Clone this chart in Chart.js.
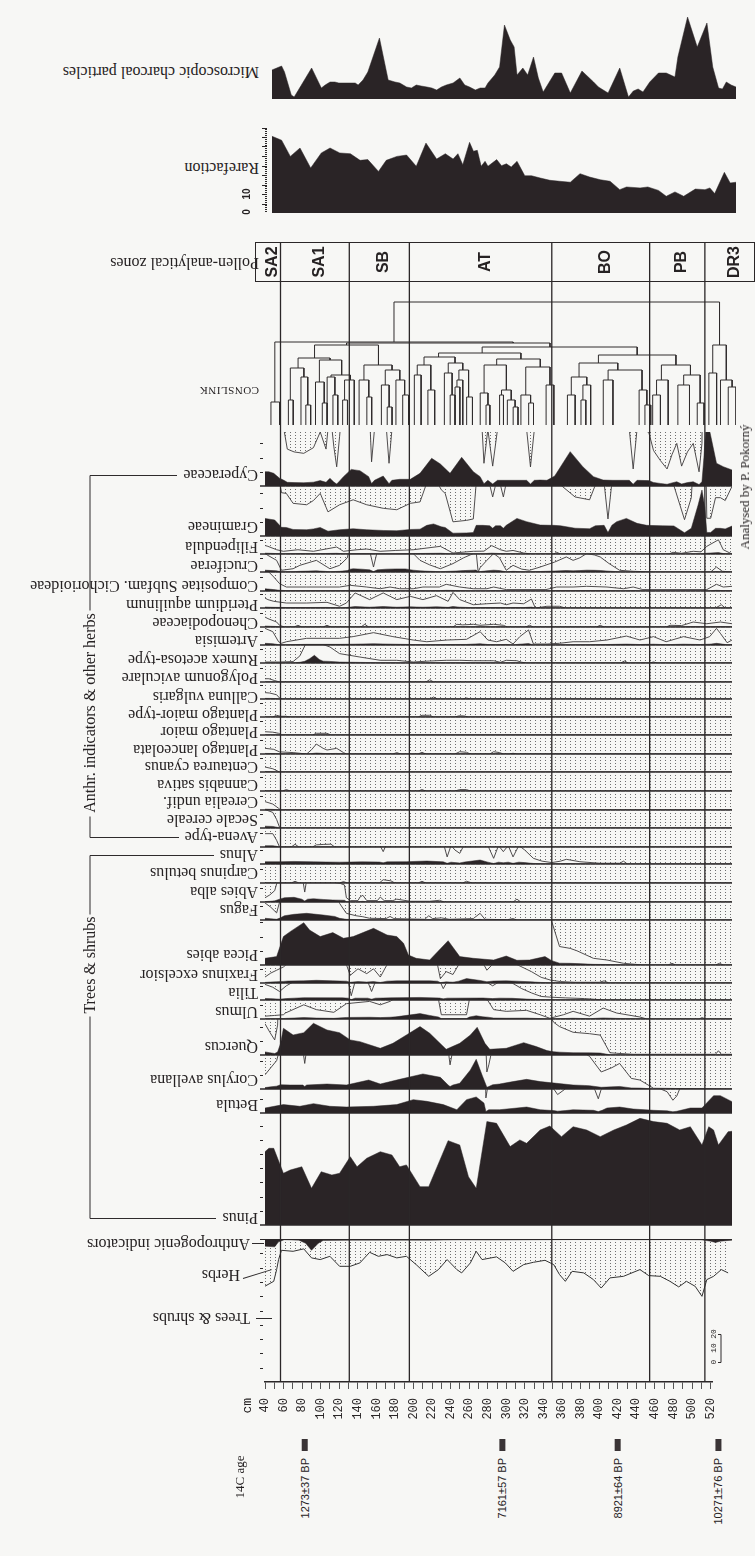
<!DOCTYPE html>
<html>
<head>
<meta charset="utf-8">
<title>Pollen diagram</title>
<script src="https://cdn.jsdelivr.net/npm/chart.js@4.4.1/dist/chart.umd.min.js"></script>
<style>
  html, body { margin: 0; padding: 0; background: #f7f7f5; }
  #page { position: relative; width: 755px; height: 1556px; overflow: hidden; background: #f7f7f5; }
  #page canvas { position: absolute; }
  .t { position: absolute; white-space: nowrap; color: #262223; transform-origin: 0 0; line-height: 1; }
  .ln { position: absolute; background: #2f2b2c; transform-origin: 0 50%; }
</style>
</head>
<body>
<div id="page"></div>
<script>
// depth axis shared by every panel
const DEPTH_MIN = 40;
const DEPTH_MAX = 522;
const X0 = 265;       // px of DEPTH_MIN
const PLOT_W = 467;   // px from DEPTH_MIN to DEPTH_MAX
const PAD_L = 10, PAD_R = 2;
const PX_PER_PCT = 1.42;
const INK = '#2a2426';
const SERIF = '"Liberation Serif", "Times New Roman", serif';

// ---------------- data ----------------
const zoneNames = ['SA2', 'SA1', 'SB', 'AT', 'BO', 'PB', 'DR3'];
const zoneBounds = [56, 127, 189, 336, 437, 494];
const ageDepths = [81, 285, 404, 508];
const ageLabels = ['1273±37 BP', '7161±57 BP', '8921±64 BP', '10271±76 BP'];

const charcoal = [[43,29],[48,31],[53,33],[56,27],[63,4],[66,2],[84,31],[94,11],[98,14],[103,17],[108,17],[112,16],[129,16],[132,14],[137,19],[142,27],[154,61],[163,19],[170,17],[175,16],[182,12],[187,11],[192,14],[197,13],[203,12],[208,11],[213,9],[218,12],[223,14],[230,16],[237,21],[242,14],[247,12],[253,9],[258,11],[263,11],[266,16],[273,24],[278,32],[283,74],[289,59],[293,52],[296,24],[302,31],[307,24],[313,42],[318,21],[323,7],[335,26],[342,26],[351,6],[363,28],[375,17],[380,12],[390,6],[402,31],[411,2],[416,8],[421,10],[426,7],[433,17],[442,26],[450,26],[459,22],[462,42],[472,82],[482,52],[492,76],[498,32],[504,11],[508,10],[512,17],[517,14],[522,12]];

const rarefaction = [[43,40.4],[53,38.3],[62,29.8],[72,34.2],[83,23.7],[94,31.6],[103,34.2],[113,31.6],[124,31.2],[134,27.7],[142,28.1],[153,21.9],[161,27.7],[172,29.8],[182,30.5],[192,24.6],[202,36.8],[213,28.4],[222,31.2],[230,28.4],[235,31.2],[240,25.4],[247,37.2],[251,32.5],[255,33],[259,24.6],[263,27.2],[266,24.6],[275,28.1],[280,24.9],[285,25.9],[290,24.2],[296,27.2],[304,19.6],[311,19.6],[320,18.4],[330,17.2],[340,16.7],[351,16.2],[361,20.7],[371,18.9],[382,17.5],[392,16.7],[402,12.3],[409,13.7],[423,13.2],[431,13.7],[442,11.9],[450,8.8],[459,11.1],[468,8.8],[480,12.6],[490,12.3],[495,13.2],[500,10.2],[510,21.4],[516,15.8],[522,16.2]];

// dendrogram links: [left depth, right depth, height, left child height, right child height]
const dendroLinks = [
  [42,51,23,0,0],[46,292,83,23,82],[169,505,123,83,80],[120,330,82,80,78],
  [87,153,80,67,60],
  [70,103,67,57,65],[62,76,57,25,48],[60,65,25,0,0],[73,80,48,0,20],[78,83,20,0,0],
  [92,115,65,43,50],[88,97,43,0,22],[95,100,22,0,0],[104,124,50,48,45],[100,108,48,0,30],
  [106,111,30,0,0],[118,128,45,25,0],[116,121,25,0,0],
  [138,167,60,45,55],[133,143,45,0,28],[141,146,28,0,0],[160,175,55,40,45],[156,164,40,0,18],
  [162,167,18,0,0],[171,180,45,0,30],[178,184,30,0,0],
  [260,420,78,72,70],[215,300,72,68,66],[200,232,68,60,62],[193,207,60,50,35],[190,197,50,0,0],
  [204,211,35,0,0],[225,240,62,52,55],[221,229,52,0,30],[227,232,30,0,0],[236,246,55,45,28],
  [234,240,45,38,0],[232,237,38,0,0],[244,250,28,0,0],
  [275,320,66,60,58],[262,285,60,32,35],[258,266,32,0,20],[264,268,20,0,0],[280,290,35,30,25],
  [278,282,30,0,0],[286,294,25,0,18],[292,297,18,0,0],[305,330,58,30,40],[300,310,30,0,22],
  [308,313,22,0,0],[326,334,40,0,0],
  [380,460,70,62,60],[360,400,62,48,55],[352,368,48,30,40],[348,356,30,0,0],[364,372,40,25,0],
  [362,367,25,0,0],[390,425,55,45,35],[385,395,45,0,0],[422,430,35,0,20],[428,434,20,0,0],
  [445,475,60,45,50],[440,452,45,30,0],[436,444,30,0,0],[468,485,50,40,22],[462,474,40,0,0],
  [482,489,22,0,0],
  [498,512,80,52,45],[494,502,52,0,0],[506,518,45,0,38],[514,522,38,0,0]
];

// pollen percentages [depth cm, %]
const cyperaceae = [[40,10.1],[44,10],[49,8.9],[55,5.5],[59,4.2],[63,2.6],[70,2.4],[80,2.3],[90,2.7],[97,3.8],[103,2.6],[107,5.4],[111,2.8],[114,1.35],[117,3.5],[121,6.6],[129,11.7],[138,10.8],[147,6.6],[150,1.7],[153,4],[162,7],[168,1.6],[171,4],[179,4.7],[190,4.7],[200,8.9],[212,19.5],[221,15.5],[231,8.9],[243,20.2],[255,10.1],[262,6.6],[266,1.6],[270,4],[275,1.4],[280,4],[300,4],[310,4],[314,1.34],[318,4],[324,4.2],[331,4],[339,7],[355,24.2],[368,13.6],[379,6.6],[389,4.2],[399,4],[410,4],[416,4],[420,1.2],[424,4],[436,3.8],[441,2.5],[448,1.8],[455,1.2],[460,2.2],[465,3],[470,1.4],[476,2.4],[482,3],[488,1.0],[491,3],[493,20],[495,41],[499,38.7],[506,16],[513,13.6],[522,11.3]];
const gramineae = [[40,12.4],[45,11.8],[50,11.3],[57,6.1],[62,6.0],[69,4.6],[83,4.4],[90,5.0],[97,6.0],[105,3.4],[117,4.4],[131,5.1],[145,4.4],[162,3.9],[176,3.7],[190,4.6],[200,4.8],[207,7.5],[214,8.5],[222,6.5],[226,6.0],[234,2.0],[248,2.2],[255,2.4],[258,7.5],[265,7.5],[272,7.2],[275,5.5],[278,7.2],[283,7.2],[286,5.5],[289,7.5],[300,12.4],[310,10.1],[324,7.7],[338,7.5],[345,7.2],[360,5.5],[375,5.1],[381,7.2],[390,7.5],[394,2.4],[398,7.5],[403,10.1],[413,12.4],[424,8.9],[434,7.5],[450,7.2],[462,7.1],[473,2.3],[480,5.4],[487,21.8],[491,32.4],[494,20],[496,2.5],[500,2.5],[505,5.4],[510,5.4],[515,5.0],[522,7]];
const filipendula = [[40,0.6],[43,0.54],[52,0.3],[59,0.19],[74,0.3],[90,0.19],[114,0.49],[121,0.19],[135,0.3],[145,0.35],[159,0.19],[175,0.25],[193,0.3],[221,0.54],[234,0.07],[255,0.19],[266,0.2],[274,0.59],[283,0.3],[289,0.19],[296,0.25],[307,0.07],[315,0],[338,0],[341,0.12],[345,0],[457,0],[461,0.12],[470,0.05],[482,0.19],[490,0.15],[496,0.54],[508,1.0],[513,0.3],[522,0]];
const cruciferae = [[40,1.3],[43,1.17],[52,0.82],[57,0.12],[69,0.23],[76,0.47],[93,0.82],[107,0.23],[117,0.47],[125,1.0],[128,2.0],[131,2.3],[140,2.0],[148,1.5],[152,0.35],[156,1.5],[165,2.0],[175,2.2],[185,2.2],[190,1.6],[193,1.3],[200,0.82],[210,0.5],[221,0.23],[234,0.59],[245,1.0],[255,1.3],[258,1.4],[260,0],[262,0.3],[269,0.82],[276,1.3],[282,1.0],[289,0.12],[296,0.47],[305,0.2],[313,0.12],[324,0.35],[339,0.7],[351,1.06],[358,0.82],[365,1.0],[372,1.3],[380,1.2],[386,1.06],[395,0.6],[406,0.12],[420,0.05],[441,0],[500,0],[506,0.35],[512,0.05],[522,0]];
const compositae = [[40,1.6],[43,1.4],[49,0.99],[55,0.52],[62,0.28],[83,0.28],[117,0.28],[128,0.4],[145,0.28],[159,0.16],[169,0.28],[179,0.16],[193,0.16],[203,0.28],[220,0.28],[227,0.47],[241,0.28],[255,0.16],[269,0.16],[276,0.28],[289,0.1],[330,0.1],[341,0.28],[358,0.28],[372,0.33],[393,0.28],[410,0.16],[420,0.28],[430,0.1],[496,0.1],[506,0.47],[513,0.28],[522,0.33]];
const pteridium = [[40,0.7],[43,0.59],[49,0.47],[62,0.35],[83,0.35],[104,0.4],[117,0.12],[124,0.35],[133,1.06],[148,0.59],[162,1.06],[176,0.59],[190,0.82],[203,0.59],[217,0.87],[229,0.47],[234,1.1],[241,0.59],[255,0.23],[269,0.3],[283,0.35],[289,0.23],[296,0.35],[307,0.3],[315,0.63],[319,0],[331,0.12],[344,0.12],[350,0],[505,0],[511,0.23],[515,0],[522,0]];
const chenopodiaceae = [[40,0.7],[43,0.59],[52,0.35],[55,0.12],[60,0],[70,0],[74,0.12],[78,0],[100,0],[104,0.12],[108,0],[139,0],[143,0.19],[147,0],[234,0],[238,0.19],[244,0.15],[255,0.19],[262,0.12],[276,0.19],[286,0.12],[290,0],[309,0],[313,0.12],[317,0],[382,0],[386,0.12],[390,0],[454,0],[458,0.12],[470,0.1],[482,0.35],[496,0.23],[510,0.35],[522,0.23]];
const artemisia = [[40,1.17],[48,0.94],[54,0.23],[57,0.12],[62,0.23],[83,0.47],[117,0.47],[131,0.59],[152,0.87],[172,0.59],[193,0.35],[207,0.23],[228,0.35],[248,0.4],[262,0.94],[270,0.35],[279,0.23],[289,0.4],[296,0.07],[303,0.59],[312,1.06],[317,0.07],[331,0.07],[344,0.12],[358,0.23],[375,0.23],[393,0.35],[413,0.63],[427,0.35],[441,0.59],[454,0.23],[472,0.59],[489,0.35],[499,0.59],[506,1.17],[510,0.82],[517,0.16],[522,0.35]];
const rumex = [[40,0.07],[55,0.07],[69,0.1],[76,0.5],[81,1.2],[86,3],[91,5.4],[96,2.5],[100,1.3],[107,1.13],[117,0.66],[138,0.42],[159,0.19],[176,0.19],[193,0.07],[210,0.14],[227,0.19],[241,0.19],[255,0.16],[276,0.16],[283,0.05],[289,0.19],[300,0.16],[305,0.05],[310,0],[407,0],[411,0.14],[415,0],[437,0],[441,0.07],[445,0],[522,0]];
const polygonum = [[40,0.23],[44,0.23],[50,0.1],[55,0],[206,0],[210,0.16],[214,0],[522,0]];
const calluna = [[40,0.45],[45,0.42],[52,0.3],[55,0.07],[58,0],[210,0],[214,0.14],[218,0],[244,0],[248,0.07],[252,0],[522,0]];
const plantagoMaiorType = [[40,0],[48,0],[52,0.12],[56,0.05],[62,0.05],[66,0],[198,0],[202,0.12],[210,0.12],[214,0],[236,0],[240,0.08],[245,0.08],[250,0],[522,0]];
const plantagoMaior = [[40,0.23],[48,0.2],[54,0.12],[57,0],[89,0],[93,0.12],[104,0.12],[108,0],[522,0]];
const plantagoLanceolata = [[40,0.4],[49,0.33],[55,0.15],[69,0.1],[83,0],[88,0.3],[93,0.7],[100,0.4],[104,0.28],[114,0.4],[121,0.1],[124,0],[172,0],[176,0.1],[180,0],[198,0],[202,0.12],[206,0],[236,0],[241,0.16],[248,0.12],[252,0],[272,0],[276,0.16],[282,0.1],[286,0],[292,0],[296,0.05],[300,0],[522,0]];
const centaurea = [[40,0.35],[48,0.23],[55,0],[522,0]];
const cannabis = [[40,0],[58,0],[62,0.1],[66,0],[198,0],[202,0.1],[206,0],[236,0],[241,0.1],[248,0.1],[252,0],[522,0]];
const cerealia = [[40,0.59],[48,0.42],[54,0.12],[56,0],[522,0]];
const secale = [[40,1.3],[48,1.1],[52,0.6],[55,0.05],[57,0],[522,0]];
const avena = [[40,0.94],[48,0.94],[52,0.47],[55,0],[67,0],[71,0.19],[75,0],[89,0],[93,0.15],[100,0.18],[108,0.2],[112,0],[522,0]];
const alnus = [[40,1.6],[56,1.6],[70,1.8],[90,1.5],[117,1.3],[140,1.5],[158,1.4],[162,0.87],[166,1.5],[186,1.6],[207,2.1],[224,1.5],[228,0.5],[232,1.3],[236,0.99],[241,0.75],[246,1.4],[262,2.8],[270,1.3],[276,0.4],[281,1.3],[286,0.87],[291,1.3],[296,0.5],[302,1.3],[308,0.99],[317,0.4],[326,0.2],[336,0.1],[345,0.2],[351,0.33],[365,0.16],[386,0.05],[406,0.05],[410,0.2],[414,0],[522,0]];
const carpinus = [[40,0],[67,0],[71,0.12],[75,0],[117,0],[121,0.1],[125,0],[158,0],[162,0.23],[170,0.15],[174,0],[198,0],[202,0.12],[206,0],[244,0],[248,0.12],[254,0],[522,0]];
const abies = [[40,0.3],[45,0.5],[50,0.8],[55,2.0],[60,3.0],[70,3.3],[78,2.0],[81,0.7],[84,2.0],[90,2.3],[100,1.8],[110,1.4],[118,1.3],[122,1.2],[124,0.3],[128,0.1],[136,0.1],[138,0.35],[141,0.47],[145,0.1],[156,0.1],[159,0.35],[163,0.1],[172,0.1],[176,0.2],[190,0.05],[210,0.05],[220,0.12],[225,0],[296,0],[300,0.2],[304,0],[522,0]];
const fagus = [[40,1.2],[46,0.9],[52,0.5],[56,1.5],[60,3.0],[70,4.0],[83,4.7],[100,3.5],[112,2.5],[117,1.17],[124,0.47],[134,0.3],[141,0.23],[148,0.12],[165,0.1],[169,0.25],[173,0.1],[205,0.05],[209,0.3],[213,0.1],[222,0.15],[230,0.05],[255,0.1],[262,0.47],[267,0.05],[290,0.02],[296,0.1],[300,0],[522,0]];
const picea = [[40,4.7],[52,5.9],[59,20],[66,23.5],[80,29.8],[86,24.6],[97,20],[110,22.8],[121,18.8],[131,20],[152,25.8],[166,21.1],[176,20],[183,15.3],[188,7],[196,4.7],[210,3.5],[229,17.1],[241,5.9],[255,4.7],[276,3.5],[289,6.3],[300,3.3],[313,3.5],[329,5.9],[336,3.05],[344,1.3],[355,1.17],[362,1.0],[379,0.47],[393,0.35],[410,0.12],[430,0],[456,0],[460,0.12],[464,0],[505,0],[509,0.12],[513,0],[522,0]];
const fraxinus = [[40,0.42],[46,0.7],[52,0.9],[59,1.13],[64,1.4],[80,1.5],[93,1.9],[110,1.5],[124,1.3],[128,0.54],[136,1.0],[145,0.66],[152,1.0],[159,0.42],[166,1.3],[176,1.5],[210,1.5],[218,1.3],[221,0.3],[227,0.8],[234,0.6],[240,1.3],[248,3.1],[262,1.8],[269,0.9],[276,1.4],[289,1.5],[300,1.3],[315,0.8],[325,0.4],[335,0.2],[345,0.1],[360,0.05],[385,0.05],[390,0.15],[395,0],[522,0]];
const tilia = [[40,1.1],[48,0.9],[55,0.6],[62,1.0],[70,1.3],[80,1.6],[120,1.5],[126,1.3],[129,0.3],[133,1.3],[146,1.3],[150,0.6],[154,1.3],[170,1.5],[200,1.8],[220,1.4],[224,0.8],[228,1.3],[265,1.4],[275,1.0],[282,1.3],[295,1.2],[305,0.8],[315,0.5],[325,0.25],[335,0.2],[350,0.15],[370,0.1],[380,0.05],[390,0],[522,0]];
const ulmus = [[40,0.2],[50,0.25],[59,0.3],[61,0.42],[80,1.0],[93,0.66],[111,0.47],[124,1.08],[148,1.24],[159,1.0],[169,1.24],[175,1.5],[200,3.8],[210,2.5],[219,1.4],[222,0.3],[248,0.3],[251,1.4],[258,2.3],[265,1.5],[270,1.3],[276,0.66],[289,0.54],[310,0.61],[324,0.3],[334,0.05],[348,0.3],[358,0.54],[375,0.2],[389,0.77],[403,0.42],[427,0.14],[434,0],[488,0],[491,0.1],[495,0],[522,0]];
const quercus = [[40,2.2],[45,1.6],[50,1.06],[53,2.1],[56,8],[59,18.8],[69,14.1],[80,15.7],[90,22.3],[104,17.6],[117,15.7],[128,10.6],[138,9.4],[159,4.7],[172,8.2],[186,14.1],[200,20],[210,15.3],[227,4],[241,8.2],[252,14.1],[259,19.5],[267,8.2],[272,4],[289,4.7],[307,8.7],[320,5.9],[331,3.1],[338,2.3],[344,2.0],[358,1.6],[375,1.5],[386,1.4],[396,0.16],[403,0.12],[420,0.05],[505,0.05],[508,0.3],[511,0.05],[522,0.05]];
const corylus = [[40,1.0],[46,1.5],[52,2.0],[56,3],[66,2.8],[79,2.8],[81,1.8],[83,2.8],[104,3.5],[124,2.8],[147,6.3],[159,3.5],[179,6.8],[203,10.6],[221,8.2],[229,2.8],[231,1.7],[234,2.8],[241,4],[252,13.4],[258,20.9],[264,9.9],[269,1.2],[271,1.7],[275,3.0],[282,3.5],[296,5.2],[310,6.8],[324,5.2],[341,4],[358,2.8],[370,2.5],[375,2.3],[387,1.2],[398,1.5],[406,1.8],[418,0.75],[427,0.63],[441,0.05],[522,0]];
const betula = [[40,3.5],[59,5.9],[76,4.7],[90,6.6],[107,4.7],[124,4.2],[152,4.7],[176,5.9],[193,9.4],[207,8.2],[224,5.9],[238,2.3],[248,9.4],[258,11.3],[266,7],[268,1.06],[271,2.3],[282,2.3],[300,3.5],[310,4.2],[324,2.3],[338,1.7],[342,1.3],[350,1.7],[358,2.3],[379,1.9],[384,1.0],[388,1.9],[393,3.5],[406,4.2],[420,2.8],[441,1.9],[455,1.5],[461,0.9],[465,1.2],[479,3.5],[491,3.5],[503,12.2],[510,12.2],[518,9.4],[522,8]];
const pinus = [[40,51.6],[44,54],[49,54],[59,36.4],[66,38.7],[78,41],[88,25.8],[98,37.5],[109,35.2],[117,36.4],[128,48.1],[135,41],[145,47],[159,51.6],[171,49.3],[179,41],[186,42.3],[200,27],[209,27],[229,59.4],[241,56.3],[250,34],[258,25.8],[269,72.8],[279,71.6],[293,55.2],[303,59.9],[310,57.5],[324,66.9],[334,69.7],[346,62.2],[358,69.2],[372,66.9],[386,62.2],[400,66.9],[413,70.4],[427,75.1],[441,72.8],[455,71.6],[468,66.9],[479,69.2],[491,56.3],[498,69.2],[503,66.9],[508,56.3],[518,65.7],[522,66]];

// summary curve: herbs (cumulative %) and anthropogenic indicators
const herbsSum = [[40,33],[49,29.6],[52,21.4],[54,14.4],[57,7.9],[69,8.6],[80,6.9],[88,13.2],[97,14.4],[107,12.1],[117,19.1],[128,19.1],[138,16.7],[148,9.3],[157,12.1],[166,10.9],[176,13.2],[186,12.1],[196,17.9],[209,26.1],[219,21.4],[228,14.4],[238,21.4],[243,23.7],[252,16.7],[258,8.6],[264,14.4],[279,12.5],[288,16.7],[296,22.6],[307,17.9],[317,16.3],[329,14.9],[338,17.9],[344,24.9],[350,29.6],[357,22.6],[369,23.7],[379,28.4],[387,34.3],[396,27.2],[410,26.1],[427,21.4],[436,25.6],[448,26.1],[458,29.6],[467,33.5],[475,29.6],[484,33.1],[491,40.1],[496,28.4],[503,26.1],[511,21.4],[518,23.7]];
const anthropogenic = [[40,5],[50,5.5],[54,2],[60,0.5],[75,0.8],[82,3],[88,7.9],[95,3],[100,1],[130,0.8],[180,0.8],[210,0.8],[240,0.6],[270,0.7],[300,0.6],[330,0.5],[360,0.4],[400,0.4],[430,0.5],[460,0.4],[490,0.6],[500,1.5],[505,2.5],[510,1.5],[522,0.8]];

// taxon strips, top to bottom: [label, series, exaggeration factor]
const taxa = [
  ['Cyperaceae', cyperaceae, 10], ['Gramineae', gramineae, 5], ['Filipendula', filipendula, 10],
  ['Cruciferae', cruciferae, 10], ['Compositae Subfam. Cichorioideae', compositae, 10],
  ['Pteridium aquilinum', pteridium, 10], ['Chenopodiaceae', chenopodiaceae, 10], ['Artemisia', artemisia, 10],
  ['Rumex acetosa-type', rumex, 10], ['Polygonum aviculare', polygonum, 10], ['Calluna vulgaris', calluna, 10],
  ['Plantago maior-type', plantagoMaiorType, 10], ['Plantago maior', plantagoMaior, 10],
  ['Plantago lanceolata', plantagoLanceolata, 10], ['Centaurea cyanus', centaurea, 10],
  ['Cannabis sativa', cannabis, 10], ['Cerealia undif.', cerealia, 10], ['Secale cereale', secale, 10],
  ['Avena-type', avena, 10], ['Alnus', alnus, 10], ['Carpinus betulus', carpinus, 10], ['Abies alba', abies, 10],
  ['Fagus', fagus, 10], ['Picea abies', picea, 10], ['Fraxinus excelsior', fraxinus, 10], ['Tilia', tilia, 10],
  ['Ulmus', ulmus, 10], ['Quercus', quercus, 10], ['Corylus avellana', corylus, 10], ['Betula', betula, 10],
  ['Pinus', pinus, 0]
];

// ---------------- layout (px) ----------------
// strip top, strip baseline, label centre
const stripLayout = {
  'Cyperaceae': [432, 486, 475], 'Gramineae': [486, 536, 527], 'Filipendula': [536, 554, 547],
  'Cruciferae': [554, 572, 566], 'Compositae Subfam. Cichorioideae': [572, 591, 586],
  'Pteridium aquilinum': [591, 608, 605], 'Chenopodiaceae': [608, 627, 623], 'Artemisia': [627, 645, 641],
  'Rumex acetosa-type': [645, 663, 660], 'Polygonum aviculare': [663, 682, 678], 'Calluna vulgaris': [682, 699, 697],
  'Plantago maior-type': [699, 717, 715], 'Plantago maior': [717, 735, 732], 'Plantago lanceolata': [735, 754, 750],
  'Centaurea cyanus': [754, 772, 767], 'Cannabis sativa': [772, 791, 785], 'Cerealia undif.': [791, 810, 802],
  'Secale cereale': [810, 828, 820], 'Avena-type': [828, 847, 837], 'Alnus': [847, 864, 855],
  'Carpinus betulus': [864, 883, 873], 'Abies alba': [883, 902, 892], 'Fagus': [902, 920, 910],
  'Picea abies': [920, 965, 955], 'Fraxinus excelsior': [965, 983, 975], 'Tilia': [983, 1000, 993],
  'Ulmus': [1000, 1019, 1012], 'Quercus': [1019, 1055, 1047], 'Corylus avellana': [1055, 1089, 1080],
  'Betula': [1089, 1113, 1105], 'Pinus': [1113, 1225, 1218]
};

// ---------------- helpers ----------------
const page = document.getElementById('page');
const xOf = (d) => X0 + (d - DEPTH_MIN) * PLOT_W / (DEPTH_MAX - DEPTH_MIN);
const toXY = (arr) => arr.map(([x, y]) => ({ x, y }));

const DOTS = (() => {
  const c = document.createElement('canvas');
  c.width = 5; c.height = 3;
  const g = c.getContext('2d');
  g.fillStyle = '#6e6e6e';
  g.fillRect(0, 0, 1, 1);
  return g.createPattern(c, 'repeat');
})();

// baseline + small scale ticks at the left edge of a strip
const stripFrame = {
  id: 'stripFrame',
  afterDatasetsDraw(chart, args, o) {
    const { ctx, chartArea: a } = chart;
    const y = chart.scales.y;
    ctx.save();
    ctx.strokeStyle = '#2b2728';
    if (o.baseline) {
      const yb = y.getPixelForValue(0);
      ctx.lineWidth = o.baseline;
      ctx.beginPath(); ctx.moveTo(a.left - 5, yb); ctx.lineTo(a.right, yb); ctx.stroke();
    }
    if (o.tickStep) {
      ctx.lineWidth = 1;
      for (let v = o.tickStep; v < y.max - 0.01; v += o.tickStep) {
        const py = Math.round(y.getPixelForValue(v)) + 0.5;
        const len = o.major && Math.abs((v / o.major) - Math.round(v / o.major)) < 1e-6 ? 5 : (o.tickLen || 3);
        ctx.beginPath(); ctx.moveTo(a.left - 2 - len, py); ctx.lineTo(a.left - 2, py); ctx.stroke();
      }
    }
    ctx.restore();
  }
};

function addCanvas(left, top, w, h) {
  const c = document.createElement('canvas');
  c.width = w; c.height = h;
  c.style.left = left + 'px'; c.style.top = top + 'px';
  c.style.width = w + 'px'; c.style.height = h + 'px';
  page.appendChild(c);
  return c;
}

function makeChart(top, base, datasets, yMin, yMax, opt = {}) {
  const padTop = opt.padTop ?? 0, padBottom = opt.padBottom ?? 1;
  const w = PAD_L + PLOT_W + PAD_R;
  const c = addCanvas(X0 - PAD_L + (opt.shift || 0), top - padTop, w, base - top + padTop + padBottom);
  return new Chart(c, {
    type: 'line',
    data: { datasets },
    options: {
      responsive: false, animation: false, devicePixelRatio: 1, events: [],
      layout: { padding: { left: PAD_L, right: PAD_R, top: padTop, bottom: padBottom } },
      elements: { point: { radius: 0 }, line: { tension: 0 } },
      plugins: { legend: { display: false }, tooltip: { enabled: false }, stripFrame: opt.frame || {} },
      scales: {
        x: { type: 'linear', min: DEPTH_MIN, max: DEPTH_MAX, display: false },
        y: { type: 'linear', min: yMin, max: yMax, display: false, reverse: !!opt.reverse }
      }
    },
    plugins: [stripFrame]
  });
}

function addText(str, font, css) {
  const el = document.createElement('div');
  el.className = 't';
  el.textContent = str;
  el.style.font = font;
  Object.assign(el.style, css);
  page.appendChild(el);
  return el;
}
// upside-down label, first letter at rightX
const flipText = (str, rightX, cy, font) =>
  addText(str, font, { left: rightX + 'px', top: cy + 'px', transform: 'rotate(180deg) translate(0,-50%)' });
// text reading bottom-to-top, centred on (cx, cy) or ending at y = cy
const upText = (str, cx, cy, font, anchor = 'center') =>
  addText(str, font, { left: cx + 'px', top: cy + 'px',
    transform: 'rotate(-90deg) translate(' + (anchor === 'end' ? '-100%' : '-50%') + ',-50%)' });

function seg(x1, y1, x2, y2, w = 1) {
  const el = document.createElement('div');
  el.className = 'ln';
  el.style.left = x1 + 'px';
  el.style.top = (y1 - w / 2) + 'px';
  el.style.width = Math.hypot(x2 - x1, y2 - y1) + 'px';
  el.style.height = w + 'px';
  el.style.transform = 'rotate(' + Math.atan2(y2 - y1, x2 - x1) + 'rad)';
  page.appendChild(el);
}

// ---------------- top panels ----------------
makeChart(12, 99, [{ data: toXY(charcoal), fill: 'origin', backgroundColor: INK, borderColor: INK, borderWidth: 0.5 }],
  0, 87, { shift: 4, padBottom: 0 });
makeChart(127, 213, [{ data: toXY(rarefaction), fill: 'origin', backgroundColor: INK, borderColor: INK, borderWidth: 0.5 }],
  0, 86 / 1.9, { shift: 4, padBottom: 0, frame: { tickStep: 1, major: 5, tickLen: 2 } });

// dendrogram
const dendroPts = dendroLinks.flatMap(([dl, dr, h, hl, hr]) =>
  [{ x: dl, y: hl }, { x: dl, y: h }, { x: dr, y: h }, { x: dr, y: hr }, { x: dr, y: null }]);
makeChart(298, 425, [{ data: dendroPts, borderColor: '#302c2d', borderWidth: 1 }], 0, 127, { shift: 4 });

// ---------------- taxon strips ----------------
taxa.forEach(([name, series, exag]) => {
  const [top, base] = stripLayout[name];
  const ds = [{ data: toXY(series), fill: 'origin', backgroundColor: INK, borderColor: INK, borderWidth: 0.5 }];
  if (exag) {
    ds.push({ data: series.map(([d, v]) => ({ x: d, y: v * exag })), fill: 'end',
      backgroundColor: DOTS, borderColor: '#3d3a3b', borderWidth: 0.9 });
  }
  makeChart(top, base, ds, 0, (base - top) / PX_PER_PCT, { frame: { baseline: 1.6, tickStep: 10 } });
});

// summary: anthropogenic indicators / herbs / trees & shrubs (0 % at the top)
makeChart(1239, 1382, [
  { data: toXY(anthropogenic), fill: 'origin', backgroundColor: INK, borderColor: INK, borderWidth: 0.5 },
  { data: toXY(herbsSum), fill: { value: 0 }, backgroundColor: DOTS, borderColor: '#333', borderWidth: 1 }
], 0, 100, { reverse: true, frame: { baseline: 2, tickStep: 10 } });

// zone boundaries across the whole diagram
const zonePts = zoneBounds.flatMap((b) => [{ x: b, y: 0 }, { x: b, y: 1 }, { x: b, y: null }]);
makeChart(242, 1382, [{ data: zonePts, borderColor: '#2b2728', borderWidth: 1.3 }], 0, 1, { padBottom: 0 });

// 14C sample marks
const agePts = ageDepths.flatMap((d) => [{ x: d, y: 0 }, { x: d, y: 1 }, { x: d, y: null }]);
makeChart(1439, 1451, [{ data: agePts, borderColor: '#3a3436', borderWidth: 6, borderCapStyle: 'butt' }], 0, 1, { padBottom: 0 });

// depth axis
const depthTicks = [];
for (let d = 40; d <= 520; d += 10) depthTicks.push(d);
new Chart(addCanvas(X0 - PAD_L, 1372, PAD_L + PLOT_W + PAD_R, 62), {
  type: 'line',
  data: { datasets: [] },
  options: {
    responsive: false, animation: false, devicePixelRatio: 1, events: [],
    layout: { padding: { left: PAD_L, right: PAD_R, top: 0, bottom: 0 } },
    plugins: { legend: { display: false }, tooltip: { enabled: false } },
    scales: {
      x: {
        type: 'linear', min: DEPTH_MIN, max: DEPTH_MAX, position: 'bottom',
        afterBuildTicks: (s) => { s.ticks = depthTicks.map((v) => ({ value: v })); },
        afterFit: (s) => { s.height = 52; },
        border: { display: true, color: '#2b2728', width: 1.5 },
        grid: { drawOnChartArea: false, drawTicks: true, tickLength: 7, color: '#555', lineWidth: 1 },
        ticks: {
          autoSkip: false, minRotation: 90, maxRotation: 90, padding: 9, color: '#2a2627',
          font: { family: 'Liberation Mono', size: 12 },
          callback: (v) => (v % 20 === 0 ? String(v) : '')
        }
      },
      y: { display: false, min: 0, max: 1 }
    }
  }
});

// ---------------- texts & frames ----------------
const LBL = '16px ' + SERIF;
flipText('Microscopic charcoal particles', 259, 72, LBL);
flipText('Rarefaction', 259, 168, LBL);
flipText('Pollen-analytical zones', 259, 263, LBL);
addText('CONSLINK', '11px ' + SERIF, { left: '259px', top: '391px', letterSpacing: '0.5px',
  transform: 'rotate(180deg) translate(0,-50%)' });
upText('0', 246, 212, '600 10px "Liberation Sans"');
upText('10', 246, 194, '600 10px "Liberation Sans"');

// zone box
const box = document.createElement('div');
Object.assign(box.style, { position: 'absolute', left: '255px', top: '242px', width: '500px', height: '40px',
  border: '1.3px solid #2b2728', boxSizing: 'border-box' });
page.appendChild(box);
const zoneEdges = [DEPTH_MIN - 10.5, ...zoneBounds, 545];
zoneNames.forEach((z, i) => {
  upText(z, xOf((zoneEdges[i] + zoneEdges[i + 1]) / 2) + 4, 262, 'bold 16px "Liberation Sans"');
});

// taxon labels + group brackets
const labelLeft = {};
taxa.forEach(([name]) => {
  const el = flipText(name, 258, stripLayout[name][2], LBL);
  labelLeft[name] = 258 - el.offsetWidth;
});
function bracket(first, last, title, cy) {
  const y1 = stripLayout[first][2], y2 = stripLayout[last][2];
  const t = upText(title, 90, cy, LBL);
  const half = t.offsetWidth / 2;
  seg(90, y1, 90, cy - half - 3);
  seg(90, cy + half + 3, 90, y2);
  seg(90, y1, labelLeft[first] - 6, y1);
  seg(90, y2, labelLeft[last] - 6, y2);
}
bracket('Cyperaceae', 'Avena-type', 'Anthr. indicators & other herbs', 713);
bracket('Alnus', 'Pinus', 'Trees & shrubs', 965);

flipText('Anthropogenic indicators', 250, 1244, LBL);
seg(252, 1243, 264, 1243);
flipText('Herbs', 240, 1275, LBL);
seg(243, 1278, 272, 1269);
flipText('Trees & shrubs', 250, 1318, LBL);
seg(256, 1318, 272, 1318);

// 10 % scale bar
upText('0', 713, 1362, '8px "Liberation Mono"');
upText('10', 713, 1348, '8px "Liberation Mono"');
upText('20', 713, 1334, '8px "Liberation Mono"');
seg(721, 1334, 721, 1362); seg(718, 1334, 721, 1334); seg(718, 1362, 721, 1362);

upText('Analysed by P. Pokorný', 745, 487, '13px ' + SERIF);
upText('cm', 247, 1398, '13px "Liberation Mono"', 'end');
upText('14C age', 240, 1477, '13px ' + SERIF);
ageDepths.forEach((d, i) => upText(ageLabels[i], xOf(d), 1458, '11px "Liberation Sans"', 'end'));
</script>
</body>
</html>
